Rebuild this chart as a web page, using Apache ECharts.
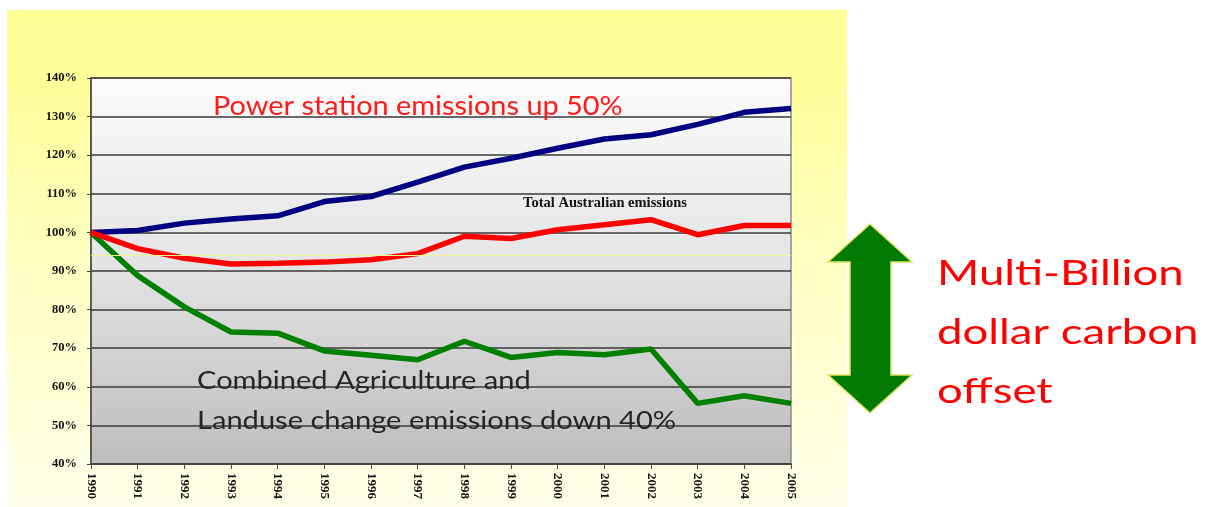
<!DOCTYPE html>
<html>
<head>
<meta charset="utf-8">
<script src="https://cdn.jsdelivr.net/npm/echarts@6/dist/echarts.min.js"></script>
<style>
  html, body { margin: 0; padding: 0; background: #fff; }
  #chart { width: 1208px; height: 507px; }
</style>
</head>
<body>
<div id="chart"></div>
<script>
// years on the x axis
const years = ['1990', '1991', '1992', '1993', '1994', '1995', '1996', '1997',
  '1998', '1999', '2000', '2001', '2002', '2003', '2004', '2005']

// % of 1990 level
const powerStation = [100, 100.5, 102.4, 103.5, 104.3, 108.0, 109.3, 113.0,
  116.9, 119.2, 121.8, 124.2, 125.3, 128.0, 131.1, 132.1]
const totalAus = [100, 95.8, 93.3, 91.8, 92.0, 92.3, 92.9, 94.5,
  99.0, 98.4, 100.7, 102.0, 103.3, 99.4, 101.8, 101.8]
const agriLanduse = [100, 88.8, 80.7, 74.2, 73.9, 69.3, 68.2, 67.0,
  71.8, 67.6, 68.9, 68.3, 69.8, 55.7, 57.7, 55.7]

// thin yellow reference line in the plot
const refLine = 94

const yMin = 40
const yMax = 140
const yStep = 10

const chart = echarts.init(document.getElementById('chart'))

const sans = 'Lato, "Open Sans", sans-serif'
const serif = '"Liberation Serif", "DejaVu Serif", serif'

// the slide text is stretched sideways, so scaleX widens it
function slideText (text, x, y, size, color, sx) {
  return {
    type: 'text', z: 100, silent: true,
    x: x, y: y, scaleX: sx,
    style: { text: text, x: 0, y: 0, font: size + 'px ' + sans, fill: color, verticalAlign: 'middle' }
  }
}

const option = {
  backgroundColor: '#fff',
  animation: false,
  graphic: [
    { // yellow slide panel
      type: 'rect', z: -10, silent: true,
      shape: { x: 7, y: 10, width: 840, height: 497 },
      style: {
        fill: {
          type: 'linear', x: 0, y: 0, x2: 0, y2: 1,
          colorStops: [
            { offset: 0, color: '#ffff98' },
            { offset: 0.15, color: '#ffff9c' },
            { offset: 0.5, color: '#ffffc2' },
            { offset: 1, color: '#ffffea' }
          ]
        }
      }
    },
    slideText('Power station emissions up 50%', 213, 106, 26.5, '#ff1a1a', 1.09),
    {
      type: 'text', z: 100, silent: true,
      style: { text: 'Total Australian emissions', x: 605, y: 203, textAlign: 'center',
        font: 'bold 14.5px ' + serif, fill: '#111', verticalAlign: 'middle' }
    },
    slideText('Combined Agriculture and', 197, 381, 25.5, '#262626', 1.14),
    slideText('Landuse change emissions down 40%', 197, 421, 25.5, '#262626', 1.14),
    { // double arrow
      type: 'polygon', z: 50, silent: true,
      shape: {
        points: [[870, 224], [912, 262], [891, 262], [891, 375], [912, 375],
          [870, 413], [828, 375], [850, 375], [850, 262], [828, 262]]
      },
      style: { fill: '#007a00', stroke: '#e4e460', lineWidth: 1.5 }
    },
    slideText('Multi-Billion', 937, 274, 34, '#ff0000', 1.34),
    slideText('dollar carbon', 937, 333, 34, '#ff0000', 1.34),
    slideText('offset', 937, 392, 34, '#ff0000', 1.34)
  ],
  grid: {
    left: 91, top: 78, right: 417, bottom: 43,
    show: true,
    borderColor: '#8a8a8a',
    borderWidth: 1.5,
    backgroundColor: {
      type: 'linear', x: 0, y: 0, x2: 0, y2: 1,
      colorStops: [
        { offset: 0, color: '#fcfcfc' },
        { offset: 0.45, color: '#e6e6e6' },
        { offset: 1, color: '#bdbdbd' }
      ]
    }
  },
  xAxis: {
    type: 'category',
    data: years,
    boundaryGap: false,
    axisLine: { show: true, lineStyle: { color: '#444', width: 1.5 } },
    axisTick: { show: true, length: 5, interval: 0, lineStyle: { color: '#444' } },
    axisLabel: {
      interval: 0, rotate: -90, margin: 9,
      fontFamily: serif, fontWeight: 'bold', fontSize: 13, color: '#111'
    },
    splitLine: { show: false }
  },
  yAxis: {
    type: 'value',
    min: yMin, max: yMax, interval: yStep,
    axisLine: { show: true, lineStyle: { color: '#444', width: 1.5 } },
    axisTick: { show: true, length: 4, lineStyle: { color: '#444' } },
    axisLabel: {
      formatter: '{value}%', margin: 14,
      fontFamily: serif, fontWeight: 'bold', fontSize: 12.5, color: '#111'
    },
    splitLine: { show: true, lineStyle: { color: '#3a3a3a', width: 1.5 } }
  },
  series: [
    {
      name: 'Power station',
      type: 'line', data: powerStation,
      symbol: 'none', z: 3,
      lineStyle: { color: '#000080', width: 5.5 },
      markLine: {
        silent: true, symbol: 'none', label: { show: false },
        lineStyle: { color: '#f2f290', width: 1, type: 'solid' },
        data: [{ yAxis: refLine }]
      }
    },
    {
      name: 'Agriculture and landuse',
      type: 'line', data: agriLanduse,
      symbol: 'none', z: 3,
      lineStyle: { color: '#008000', width: 5.5 }
    },
    {
      name: 'Total Australian emissions',
      type: 'line', data: totalAus,
      symbol: 'none', z: 4,
      lineStyle: { color: '#ff0000', width: 5.5 }
    }
  ]
}

chart.setOption(option)
</script>
</body>
</html>
